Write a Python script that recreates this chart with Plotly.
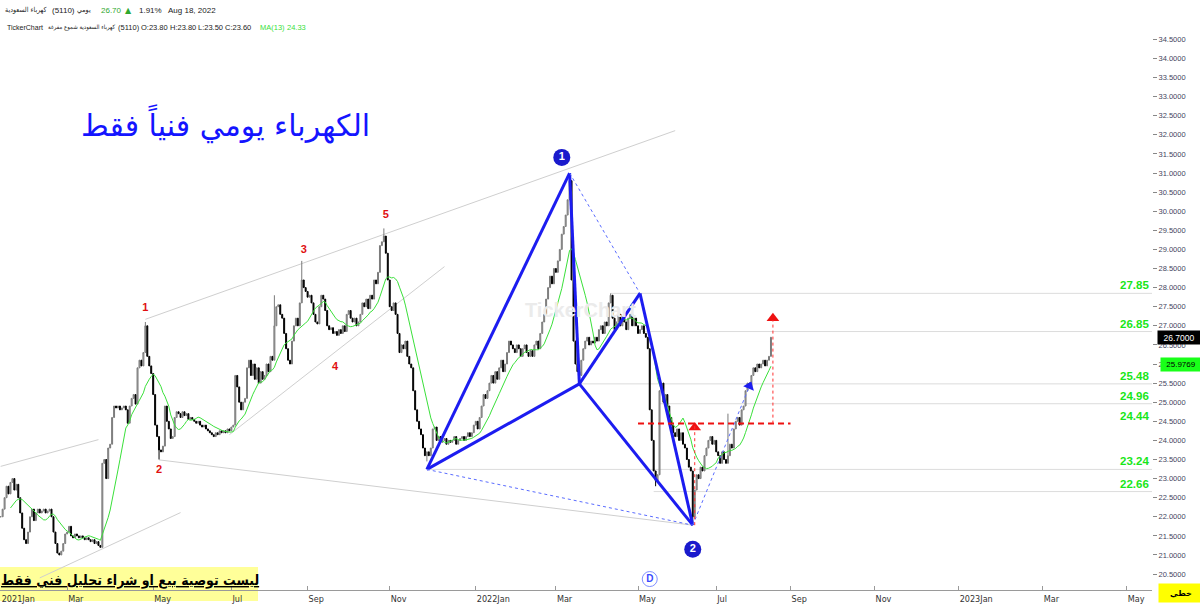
import plotly.graph_objects as go
import pandas as pd
from datetime import date, timedelta

# ------------------------------------------------------------------ data
first_day = "2021-01-03"
last_day = "2022-08-18"
axis_end = "2023-06-30"
holidays = ["2021-05-11", "2021-05-12", "2021-05-13", "2021-05-16",
            "2021-07-18", "2021-07-19", "2021-07-20", "2021-07-21", "2021-07-22",
            "2021-09-23", "2022-02-22", "2022-04-28",
            "2022-05-01", "2022-05-02", "2022-05-03", "2022-05-04", "2022-05-05",
            "2022-07-07", "2022-07-10", "2022-07-11", "2022-07-12", "2022-07-13", "2022-07-14"]

close_2021_01 = [22.1, 22.0, 21.9, 22.1, 22.0, 21.9, 22.0, 22.0, 22.2, 22.5, 22.8, 22.6, 22.9,
                 23.0, 22.7, 22.85, 22.5, 22.1, 21.7, 21.4, 21.3]
close_2021_02 = [21.6, 22.0, 22.2, 21.9, 22.1, 22.2, 22.1, 22.15, 22.2, 22.1, 22.15, 22.2, 22.0,
                 21.6, 21.3, 21.05, 21.0, 21.1, 21.3, 21.55]
close_2021_03 = [21.6, 21.75, 21.5, 21.45, 21.55, 21.5, 21.45, 21.5, 21.45, 21.4,
                 21.45, 21.4, 21.35, 21.4, 21.3, 21.35, 21.25, 21.2, 23.4, 23.5, 23.0, 23.8, 23.9]
close_2021_04 = [24.6, 24.9, 24.85, 24.9, 24.8, 24.85, 24.9, 24.8, 24.45, 24.9, 25.1, 25.2, 24.95,
                 25.9, 26.1, 25.95, 26.3, 27.0, 26.2, 25.95, 25.75]
close_2021_05 = [25.2, 24.4, 24.1, 23.75, 23.7, 23.85, 24.9, 24.5, 24.3, 24.05, 24.1,
                 24.6, 24.75, 24.7, 24.6, 24.75, 24.65, 24.7]
close_2021_06 = [24.55, 24.6, 24.55, 24.5, 24.45, 24.5, 24.4, 24.35, 24.4,
                 24.3, 24.25, 24.2, 24.15, 24.1, 24.2, 24.15, 24.25, 24.2, 24.25, 24.2, 24.3, 24.25]
close_2021_07 = [24.35, 24.4, 25.7, 25.4, 25.0, 24.8, 25.0, 25.1, 25.9, 26.1,
                 25.7, 26.0, 25.6, 25.9, 25.5, 25.8]
close_2021_08 = [25.6, 25.7, 26.0, 25.8, 26.2, 26.1, 27.0, 27.5, 27.55, 27.3, 27.2, 26.8,
                 26.4, 26.1, 26.0, 26.6, 27.0, 27.2, 27.0, 27.6, 28.2, 28.0, 27.9]
close_2021_09 = [27.75, 27.8, 27.6, 27.3, 27.1, 27.05, 27.5, 27.8, 27.7, 27.4, 27.0, 26.9,
                 26.95, 26.8, 26.85, 26.75, 26.9, 26.8, 27.0, 26.85, 27.3]
close_2021_10 = [27.4, 27.2, 27.1, 27.2, 27.0, 27.1, 27.3, 27.6, 27.5, 27.7, 27.45, 27.8, 27.7,
                 28.2, 28.1, 28.4, 29.1, 29.2, 29.35, 28.9, 28.2]
close_2021_11 = [27.5, 27.4, 27.6, 27.3, 26.8, 26.3, 26.5, 26.4, 26.6, 26.2, 26.0, 25.9,
                 25.3, 24.8, 24.5, 24.3, 24.15, 23.8, 23.6, 23.7, 23.6, 23.8]
close_2021_12 = [24.3, 24.35, 24.0, 24.1, 23.95, 24.0, 24.05, 23.9, 24.0,
                 23.95, 24.0, 24.1, 23.9, 24.0, 24.05, 24.1, 24.0, 24.1, 24.2, 24.1, 24.2, 24.4]
close_2022_01 = [24.5, 24.3, 24.6, 24.9, 25.2, 25.1, 25.3, 25.5, 25.7, 25.5, 25.8, 25.6,
                 25.9, 26.1, 25.8, 26.0, 26.3, 26.6, 26.5, 26.4, 26.3, 26.5]
close_2022_02 = [26.4, 26.2, 26.4, 26.5, 26.3, 26.2, 26.35, 26.2, 26.5, 26.6, 26.4,
                 26.8, 27.1, 27.3, 27.7, 28.0, 28.3, 28.1, 28.5]
close_2022_03 = [28.4, 28.7, 29.0, 29.4, 29.6, 29.9, 30.3, 30.8, 28.2, 26.6, 26.0, 25.8, 25.7,
                 26.1, 26.4, 26.6, 26.7, 26.5, 26.6, 26.55, 26.7, 26.6, 26.9]
close_2022_04 = [27.0, 26.8, 27.1, 27.0, 27.6, 27.8, 27.2, 26.9, 27.1, 27.3, 27.0, 27.2, 27.1,
                 26.9, 27.2, 27.3, 27.0, 27.2, 27.0]
close_2022_05 = [26.8, 26.9, 27.0, 26.8, 26.7, 26.4, 24.8, 24.0, 23.2, 22.95, 23.1,
                 25.3, 25.5, 25.0, 25.2, 24.9, 24.6, 24.4]
close_2022_06 = [24.2, 24.1, 24.3, 24.0, 24.2, 23.9, 23.8, 23.5, 23.3, 23.2, 22.0,
                 22.7, 23.1, 23.0, 23.3, 23.2, 23.6, 23.8, 24.0, 24.1, 23.9, 24.0]
close_2022_07 = [23.7, 23.6, 23.4, 23.7, 23.5, 23.4, 23.6, 23.9, 23.8, 24.3, 24.5, 24.6,
                 24.4, 24.8, 24.9]
close_2022_08 = [25.3, 25.5, 25.4, 25.7, 25.9, 25.8, 26.0, 25.9, 26.0, 26.1, 25.95, 26.1, 26.2, 26.7]

wick_high = {"2021-04-26": 27.1, "2021-08-09": 27.8, "2021-08-29": 28.7, "2021-10-27": 29.55,
             "2022-03-10": 31.0, "2022-04-10": 27.85, "2022-07-19": 24.7}
wick_low = {"2021-05-05": 23.5, "2021-11-28": 23.45, "2022-03-17": 25.55,
            "2022-05-19": 22.8, "2022-06-15": 21.78}

# pattern points (date, price)
pt_A = ("2021-11-28", 23.24)
pt_B = ("2022-03-10", 31.0)
pt_C = ("2022-03-17", 25.48)
pt_D = ("2022-05-09", 27.85)
pt_E = ("2022-06-15", 21.78)
pt_F = ("2022-08-03", 25.42)

channel_lines = [
    (("2021-04-26", 27.17), ("2022-06-02", 32.11)),
    (("2021-06-30", 24.15), ("2021-12-09", 28.55)),
    (("2021-01-12", 23.32), ("2021-03-23", 24.02)),
    (("2021-02-09", 20.40), ("2021-05-26", 22.11)),
    (("2021-05-05", 23.49), ("2022-06-15", 21.78)),
]
level_values = [27.85, 26.85, 25.48, 24.96, 24.44, 23.24, 22.66]
level_labels = ["27.85", "26.85", "25.48", "24.96", "24.44", "23.24", "22.66"]
level_starts = ["2022-04-10", "2022-05-10", "2022-03-17", "2022-05-23", "2022-05-08", "2021-11-28", "2022-05-18"]
breakout_level = 24.44
breakout_start, breakout_end = "2022-05-08", "2022-09-01"
arrow1_date, arrow1_top = "2022-06-16", 24.44
arrow2_date, arrow2_top = "2022-08-21", 27.15

wave_labels = ["1", "2", "3", "4", "5"]
wave_dates = ["2021-04-26", "2021-05-05", "2021-08-30", "2021-09-21", "2021-10-28"]
wave_prices = [27.45, 23.22, 28.98, 25.92, 29.9]

circle_labels = ["1", "2"]
circle_dates = ["2022-03-06", "2022-06-15"]
circle_prices = [31.41, 21.15]

last_price_label = "26.7000"
last_price = 26.70
ma_label = "25.9769"
ma_value = 25.9769

tick_months = [1, 3, 5, 7, 9, 11]
month_names = {1: "Jan", 3: "Mar", 5: "May", 7: "Jul", 9: "Sep", 11: "Nov"}

# ------------------------------------------------------------------ calendar
hol = set(holidays)
d = date.fromisoformat(first_day)
d_last = date.fromisoformat(last_day)
d_end = date.fromisoformat(axis_end)
cal = []
while d <= d_end:
    if d.weekday() in (6, 0, 1, 2, 3) and d.isoformat() not in hol:
        cal.append(d)
    d += timedelta(days=1)
pos_of = {dd.isoformat(): i for i, dd in enumerate(cal)}


def pos(s):
    dd = date.fromisoformat(s)
    while dd.isoformat() not in pos_of:
        dd += timedelta(days=1)
    return pos_of[dd.isoformat()]


closes = (close_2021_01 + close_2021_02 + close_2021_03 + close_2021_04 + close_2021_05 +
          close_2021_06 + close_2021_07 + close_2021_08 + close_2021_09 + close_2021_10 +
          close_2021_11 + close_2021_12 + close_2022_01 + close_2022_02 + close_2022_03 +
          close_2022_04 + close_2022_05 + close_2022_06 + close_2022_07 + close_2022_08)
data_dates = [dd for dd in cal if dd <= d_last]
n = min(len(closes), len(data_dates))
closes = closes[:n]
data_dates = data_dates[:n]
opens = [closes[0]] + closes[:-1]
highs = [max(o, c) for o, c in zip(opens, closes)]
lows = [min(o, c) for o, c in zip(opens, closes)]
for k, v in wick_high.items():
    if k in pos_of and pos_of[k] < n:
        highs[pos_of[k]] = max(highs[pos_of[k]], v)
for k, v in wick_low.items():
    if k in pos_of and pos_of[k] < n:
        lows[pos_of[k]] = min(lows[pos_of[k]], v)
xs = list(range(n))
ma13 = pd.Series(closes).rolling(13).mean()

# ------------------------------------------------------------------ figure
W, H = 1200, 604
ML, MR, MT, MB = 0, 48, 30, 11
PW, PH = W - ML - MR, H - MT - MB
XRANGE = [6.65, 595.9]


def px(x):
    return x / PW


def py(y):
    return (H - MB - y) / PH


fig = go.Figure()
fig.add_trace(go.Candlestick(
    x=xs, open=opens, high=highs, low=lows, close=closes,
    increasing=dict(line=dict(color="#7a7a7a", width=1), fillcolor="#b8b8b8"),
    decreasing=dict(line=dict(color="#000000", width=1), fillcolor="#000000"),
    whiskerwidth=0, showlegend=False, hoverinfo="skip"))
fig.add_trace(go.Scatter(x=xs, y=ma13, mode="lines", line=dict(color="#3ae03a", width=1),
                         showlegend=False, hoverinfo="skip"))

shapes = []
# disclaimer background (below axis labels)
shapes.append(dict(type="rect", xref="paper", yref="paper", x0=0, x1=px(258), y0=py(604), y1=py(570),
                   layer="below", line=dict(width=0), fillcolor="#ffff99"))


def seg(p1, p2, color, width, dash="solid", layer="above"):
    shapes.append(dict(type="line", xref="x", yref="y", x0=pos(p1[0]), y0=p1[1],
                       x1=pos(p2[0]), y1=p2[1], layer=layer,
                       line=dict(color=color, width=width, dash=dash)))


for a, b in channel_lines:
    seg(a, b, "#cfcfcf", 1, layer="below")
for lv, st in zip(level_values, level_starts):
    if lv == breakout_level:
        continue
    shapes.append(dict(type="line", xref="x", yref="y", x0=pos(st), x1=len(cal) - 1, y0=lv, y1=lv,
                       layer="below", line=dict(color="#dcdcdc", width=1)))

blue = "#1c1cf0"
seg(pt_A, pt_B, blue, 3)
seg(pt_B, pt_C, blue, 3)
seg(pt_A, pt_C, blue, 3)
seg(pt_C, pt_D, blue, 3)
seg(pt_D, pt_E, blue, 3)
seg(pt_C, pt_E, blue, 3)
seg(pt_B, pt_D, "#5a6cff", 1, "dot")
seg(pt_A, pt_E, "#5a6cff", 1, "dot")
seg(pt_E, pt_F, "#5a6cff", 1, "dot")
seg((breakout_start, breakout_level), (breakout_end, breakout_level), "#ee1111", 2, "6px,4px")
seg((arrow1_date, pt_E[1]), (arrow1_date, arrow1_top), "#ff3030", 1, "dot")
seg((arrow2_date, breakout_level), (arrow2_date, arrow2_top), "#ff3030", 1, "dot")

# arrow heads
fig.add_trace(go.Scatter(x=[pos(arrow1_date), pos(arrow2_date)], y=[arrow1_top - 0.1, arrow2_top + 0.05],
                         mode="markers", marker=dict(symbol="triangle-up", size=11, color="#ee1111"),
                         showlegend=False, hoverinfo="skip"))
fig.add_trace(go.Scatter(x=[pos(pt_F[0])], y=[pt_F[1]], mode="markers",
                         marker=dict(symbol="triangle-up", size=10, color=blue, angle=22),
                         showlegend=False, hoverinfo="skip"))
# numbered circles
fig.add_trace(go.Scatter(x=[pos(s) for s in circle_dates], y=circle_prices, mode="markers+text",
                         text=["<b>%s</b>" % t for t in circle_labels], textposition="middle center",
                         textfont=dict(color="white", size=11, family="Liberation Sans"),
                         marker=dict(size=17, color="#1a1acc"), showlegend=False, hoverinfo="skip"))
fig.add_trace(go.Scatter(x=[pos("2022-05-16")], y=[20.37], mode="markers+text", text=["<b>D</b>"],
                         textposition="middle center",
                         textfont=dict(color="#3a4aff", size=10, family="Liberation Sans"),
                         marker=dict(size=15, color="white", line=dict(color="#8090ff", width=1)),
                         showlegend=False, hoverinfo="skip"))
# wave labels
fig.add_trace(go.Scatter(x=[pos(s) for s in wave_dates], y=wave_prices, mode="text",
                         text=["<b>%s</b>" % t for t in wave_labels],
                         textfont=dict(color="#e01010", size=11, family="Liberation Sans"),
                         showlegend=False, hoverinfo="skip"))

ann = []
# level labels
for lv, lab in zip(level_values, level_labels):
    ann.append(dict(xref="paper", yref="y", x=1.0, y=lv, xanchor="right", yanchor="bottom",
                    text="<b>%s</b>" % lab, showarrow=False, yshift=0, xshift=-1,
                    font=dict(color="#19e619", size=11.5, family="Liberation Sans")))
# badges
ann.append(dict(xref="paper", yref="y", x=px(1157), y=last_price, xanchor="left", yanchor="middle",
                text=last_price_label, showarrow=False, bgcolor="#000000", width=40, height=11,
                font=dict(color="white", size=8.5, family="Liberation Sans")))
ann.append(dict(xref="paper", yref="y", x=px(1160), y=ma_value, xanchor="left", yanchor="middle",
                text=ma_label, showarrow=False, bgcolor="#19ff19", width=38, height=11,
                font=dict(color="#000000", size=8, family="Liberation Sans")))
# title
ann.append(dict(xref="paper", yref="paper", x=px(225), y=py(125), xanchor="center", yanchor="middle",
                text="الكهرباء يومي فنياً فقط",
                showarrow=False, font=dict(color="#1414ff", size=30, family="DejaVu Sans")))
# watermark
ann.append(dict(xref="paper", yref="paper", x=px(580), y=py(312), xanchor="center", yanchor="middle",
                text="<b>TickerChart</b>",
                showarrow=False, font=dict(color="#ebebeb", size=20, family="Liberation Sans")))
# disclaimer text
ann.append(dict(xref="paper", yref="paper", x=px(130), y=py(583), xanchor="center", yanchor="middle",
                text="<b><u>ليست توصية بيع او شراء تحليل فني فقط</u></b>", showarrow=False,
                font=dict(color="#000000", size=14, family="DejaVu Sans Condensed")))
ann.append(dict(xref="paper", yref="paper", x=px(1158), y=py(596), xanchor="left", yanchor="middle",
                text="<b>خطي</b>", showarrow=False, bgcolor="#ffff00", width=42, height=16,
                font=dict(color="#000000", size=8, family="DejaVu Sans")))
# header (x = left edge, or centre for Arabic runs)
hdr1 = [("كهرباء السعودية", 26, "center", "#222222", "DejaVu Sans Condensed", 7),
        ("(5110)", 50, "left", "#222222", "Liberation Sans", 8),
        ("يومي", 84, "center", "#222222", "DejaVu Sans Condensed", 7),
        ("26.70", 99, "left", "#2fa82f", "Liberation Sans", 8),
        ("▲", 123, "left", "#2fa82f", "DejaVu Sans", 8),
        ("1.91%", 137, "left", "#222222", "Liberation Sans", 8),
        ("Aug 18, 2022", 166, "left", "#222222", "Liberation Sans", 8)]
for t, x0, anc, c, fam, sz in hdr1:
    ann.append(dict(xref="paper", yref="paper", x=px(x0), y=py(10), xanchor=anc, yanchor="middle",
                    text=t, showarrow=False, font=dict(color=c, size=sz, family=fam)))
hdr2 = [("TickerChart", 5, "left", "#222222", "Liberation Sans", 7),
        ("كهرباء السعودية شموع مفرغة", 81, "center", "#222222", "DejaVu Sans Condensed", 6),
        ("(5110)", 116, "left", "#222222", "Liberation Sans", 7.5),
        ("O:23.80", 139, "left", "#222222", "Liberation Sans", 7.5),
        ("H:23.80", 168, "left", "#222222", "Liberation Sans", 7.5),
        ("L:23.50", 196, "left", "#222222", "Liberation Sans", 7.5),
        ("C:23.60", 223, "left", "#222222", "Liberation Sans", 7.5),
        ("MA(13)", 258, "left", "#3ae03a", "Liberation Sans", 7.5),
        ("24.33", 285, "left", "#3ae03a", "Liberation Sans", 7.5)]
for t, x0, anc, c, fam, sz in hdr2:
    ann.append(dict(xref="paper", yref="paper", x=px(x0), y=py(27), xanchor=anc, yanchor="middle",
                    text=t, showarrow=False, font=dict(color=c, size=sz, family=fam)))

# x ticks (first trading day of every second month; first visible day for a clipped month)
tickvals, ticktext = [], []
seen = set()
first_visible = int(XRANGE[0]) + 1
for i, dd in enumerate(cal):
    if dd.month in tick_months and (dd.year, dd.month) not in seen:
        seen.add((dd.year, dd.month))
        tickvals.append(max(i, first_visible) if i < first_visible + 20 else i)
        ticktext.append(("%d%s" % (dd.year, month_names[dd.month])) if dd.month == 1 else month_names[dd.month])

fig.update_layout(
    width=W, height=H, margin=dict(l=ML, r=MR, t=MT, b=MB),
    paper_bgcolor="white", plot_bgcolor="white",
    shapes=shapes, annotations=ann,
    xaxis=dict(range=XRANGE, tickvals=tickvals, ticktext=ticktext, showgrid=False,
               zeroline=False, showline=True, linecolor="#9a9a9a", ticks="inside", ticklen=4,
               tickcolor="#9a9a9a", rangeslider=dict(visible=False), ticklabelposition="outside right",
               tickfont=dict(size=9, color="#333333", family="DejaVu Sans Condensed")),
    yaxis=dict(range=[20.083, 34.745], side="right", dtick=0.5, tick0=20.5, tickformat=".4f",
               showgrid=False, zeroline=False, showline=False, ticks="outside", ticklen=4,
               tickcolor="#888888", tickfont=dict(size=7.5, color="#44445e", family="Liberation Sans")),
)
fig.write_html("out.html", config={"displayModeBar": False},
               post_script="document.body.style.margin='0px';")
